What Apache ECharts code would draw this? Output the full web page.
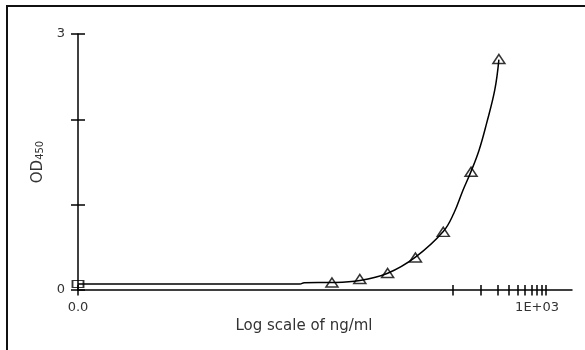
<!DOCTYPE html>
<html>
<head>
<meta charset="utf-8">
<script src="https://cdn.jsdelivr.net/npm/echarts@6/dist/echarts.min.js"></script>
<style>
  html, body { margin: 0; padding: 0; background: #fff; }
  #chart { width: 585px; height: 350px; }
</style>
</head>
<body>
<div id="chart"></div>
<script>
// blank well (0 ng/ml), plotted on the axis origin
const blankOD = [0.070];
// standards, 2-fold dilution series (ng/ml)
const standardConc = [4.88, 9.77, 19.53, 39.06, 78.13, 156.25, 312.5];
const standardOD = [0.088, 0.129, 0.199, 0.381, 0.682, 1.386, 2.707];
// fitted curve as drawn (0 = blank)
const fitConc = [0, 2.2, 2.44, 4.88, 9.77, 19.53, 39.06, 78.13, 101.7, 128, 156.25, 191, 230, 282, 312.5];
const fitOD = [0.070, 0.070, 0.086, 0.088, 0.110, 0.196, 0.385, 0.685, 0.899, 1.172, 1.390, 1.641, 1.953, 2.344, 2.700];
// axis ticks
const xTickConc = [100, 200, 300, 400, 500, 600, 700, 800, 900, 1000];
const xTickLabels = ['0.0', '1E+03'];
const yTicks = [0, 1, 2, 3];
const yTickLabels = ['0', '3'];

const originLog = -2.06;   // log10 position of the y axis
const endLog = 3.286;

const toX = c => (c > 0 ? Math.log10(c) : originLog);
const font = 'DejaVu Sans';

const chart = echarts.init(document.getElementById('chart'));

const xTickVals = [originLog].concat(xTickConc.map(toX));
const xLabelVals = [originLog, toX(xTickConc[xTickConc.length - 1])];

const baseX = {
  type: 'value',
  min: originLog,
  max: endLog,
  position: 'bottom',
  splitLine: { show: false },
  axisLine: { show: true, onZero: false, lineStyle: { color: '#000', width: 1.5 } },
  axisTick: { show: true, length: 5.5, customValues: xTickVals, lineStyle: { color: '#000', width: 1.5 } }
};
const baseY = {
  type: 'value',
  min: 0,
  max: 3,
  interval: 1,
  position: 'left',
  splitLine: { show: false },
  axisLine: { show: true, onZero: false, lineStyle: { color: '#000', width: 1.5 } },
  axisTick: { show: true, length: 7, customValues: yTicks, lineStyle: { color: '#000', width: 1.5 } }
};

const option = {
  animation: false,
  backgroundColor: '#fff',
  graphic: [
    {
      type: 'rect',
      shape: { x: 7, y: 6, width: 700, height: 500 },
      style: { fill: 'none', stroke: '#111', lineWidth: 2 },
      silent: true
    }
  ],
  grid: { left: 78, right: 13, top: 34, bottom: 60 },
  xAxis: [
    Object.assign({}, baseX, {
      name: 'Log scale of ng/ml',
      nameLocation: 'middle',
      nameGap: 21,
      nameTextStyle: { fontFamily: font, fontSize: 15, color: '#333', padding: [0, 42, 0, 0] },
      axisLabel: {
        show: true,
        customValues: xLabelVals,
        margin: 11,
        fontFamily: font,
        fontSize: 13,
        color: '#333',
        formatter: v => (Math.abs(v - originLog) < 1e-6 ? xTickLabels[0] : '{r|' + xTickLabels[1] + '}'),
        rich: {
          r: { fontFamily: font, fontSize: 13, color: '#333', padding: [0, 17, 0, 0] }
        }
      }
    }),
    Object.assign({}, baseX, {
      axisLine: { show: false, onZero: false },
      axisTick: Object.assign({}, baseX.axisTick, { inside: true, length: 5 }),
      axisLabel: { show: false }
    })
  ],
  yAxis: [
    Object.assign({}, baseY, {
      name: '{a|OD}{b|450}',
      nameLocation: 'middle',
      nameGap: 32,
      nameRotate: 90,
      nameTextStyle: {
        color: '#333',
        rich: {
          a: { fontFamily: font, fontSize: 15, lineHeight: 18, color: '#333', verticalAlign: 'bottom' },
          b: { fontFamily: font, fontSize: 10, lineHeight: 14, color: '#333', verticalAlign: 'bottom' }
        }
      },
      axisLabel: {
        show: true,
        customValues: [0, 3],
        margin: 13,
        fontFamily: font,
        fontSize: 13,
        color: '#333',
        formatter: v => (v === 0 ? yTickLabels[0] : yTickLabels[1])
      }
    }),
    Object.assign({}, baseY, {
      axisLine: { show: false, onZero: false },
      axisTick: Object.assign({}, baseY.axisTick, { inside: true }),
      axisLabel: { show: false }
    })
  ],
  series: [
    {
      name: 'fit',
      type: 'line',
      data: fitConc.map((c, i) => [toX(c), fitOD[i]]),
      smooth: 0.4,
      showSymbol: false,
      lineStyle: { color: '#000', width: 1.5 },
      z: 2
    },
    {
      name: 'standards',
      type: 'scatter',
      data: standardConc.map((c, i) => [toX(c), standardOD[i]]),
      symbol: 'triangle',
      symbolSize: [12, 9],
      itemStyle: { color: 'none', borderColor: '#000', borderWidth: 1.5 },
      z: 3
    },
    {
      name: 'blank',
      type: 'scatter',
      data: blankOD.map(v => [originLog, v]),
      symbol: 'rect',
      symbolSize: [11, 7],
      itemStyle: { color: 'none', borderColor: '#000', borderWidth: 1.5 },
      z: 3
    }
  ]
};

chart.setOption(option);
</script>
</body>
</html>
